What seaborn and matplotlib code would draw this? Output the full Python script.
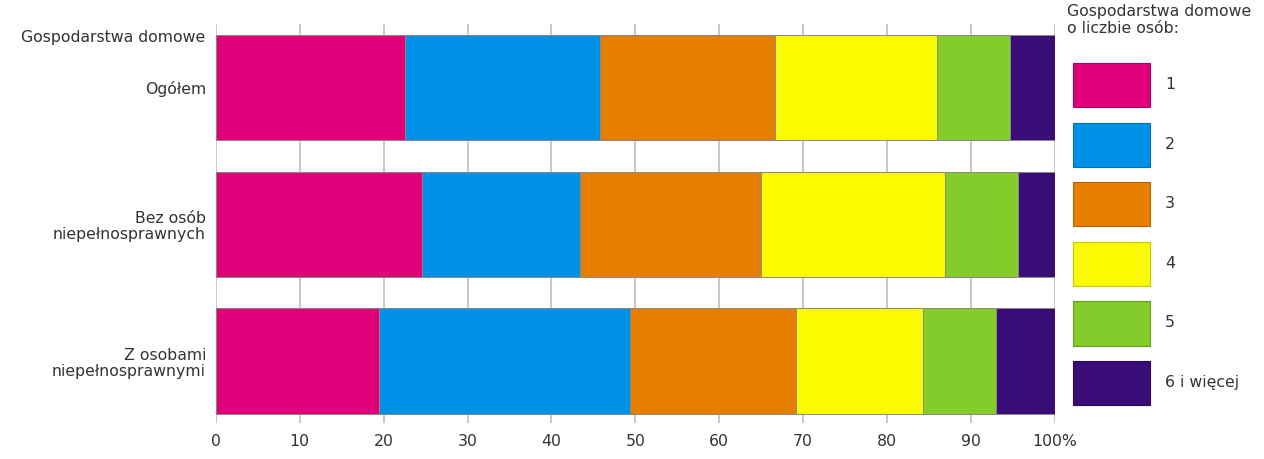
import numpy as np
import pandas as pd
import matplotlib.pyplot as plt
import seaborn as sns
from matplotlib.patches import Patch

# data (percent of households)
groups = ["Ogółem", "Bez osób\nniepełnosprawnych", "Z osobami\nniepełnosprawnymi"]
sizes = ["1", "2", "3", "4", "5", "6 i więcej"]
share_1 = [22.6, 24.6, 19.4]
share_2 = [23.2, 18.8, 30.0]
share_3 = [20.9, 21.6, 19.7]
share_4 = [19.2, 21.9, 15.2]
share_5 = [8.7, 8.7, 8.7]
share_6 = [5.4, 4.4, 7.0]
x_ticks = [0, 10, 20, 30, 40, 50, 60, 70, 80, 90, 100]
x_labels = ["0", "10", "20", "30", "40", "50", "60", "70", "80", "90", "100%"]

colors = ["#E0007A", "#0090E6", "#E67E00", "#FAFA00", "#84CC2A", "#3A0C78"]
edges = ["#b0005f", "#0070b5", "#b56300", "#c8c800", "#679f20", "#2a0858"]

sns.set_style("white")
plt.rcParams["font.family"] = ["DejaVu Sans"]
text_col = "#333333"
fs = 11.3

df = pd.DataFrame({"group": groups, "1": share_1, "2": share_2, "3": share_3,
                   "4": share_4, "5": share_5, "6 i więcej": share_6})
cum = df[sizes].cumsum(axis=1)
cum["group"] = df["group"]

fig = plt.figure(figsize=(12.64, 4.59), dpi=100)
ax = fig.add_axes([0.1707, 0.0784, 0.8346 - 0.1707, 0.948 - 0.0784])

# stacked bars: draw cumulative totals from the widest down
for i in range(len(sizes) - 1, -1, -1):
    sns.barplot(data=cum, x=sizes[i], y="group", orient="h", color=colors[i],
                saturation=1, width=0.77, edgecolor="#8a8a8a", linewidth=0.7, ax=ax)

ax.set_xlim(0, 100)
ax.set_ylim(2.454, -0.469)
ax.set_axisbelow(True)
ax.xaxis.grid(True, color="#c8c8c8", linewidth=1.4)
ax.yaxis.grid(False)
for s in ax.spines.values():
    s.set_visible(False)
ax.set_xticks(x_ticks)
ax.set_xticklabels(x_labels)
ax.tick_params(axis="x", length=0, pad=8, labelsize=fs, labelcolor=text_col)
ax.tick_params(axis="y", length=0, pad=7, labelsize=fs, labelcolor=text_col)
for t in ax.get_yticklabels():
    t.set_linespacing(1.1)
ax.set_xlabel("")
ax.set_ylabel("")

ax.text(-0.012, 0.965, "Gospodarstwa domowe", transform=ax.transAxes,
        ha="right", va="center", fontsize=fs, color=text_col)

# legend title as separate text so the gap to the boxes can be set freely
fig.text(1067 / 1264, 1 - 4 / 459, "Gospodarstwa domowe\no liczbie osób:",
         ha="left", va="top", fontsize=fs, color=text_col, linespacing=1.2)

handles = [Patch(facecolor=colors[i], edgecolor=edges[i], linewidth=0.8) for i in range(len(sizes))]
leg = fig.legend(handles, sizes, loc="upper left", bbox_to_anchor=(1073 / 1264, 1 - 63 / 459),
                 frameon=False, fontsize=fs,
                 handlelength=4.9, handleheight=3.98, labelspacing=0.96,
                 handletextpad=0.95, borderpad=0, borderaxespad=0)
for t in leg.get_texts():
    t.set_color(text_col)

fig.savefig("out.png", dpi=100)
